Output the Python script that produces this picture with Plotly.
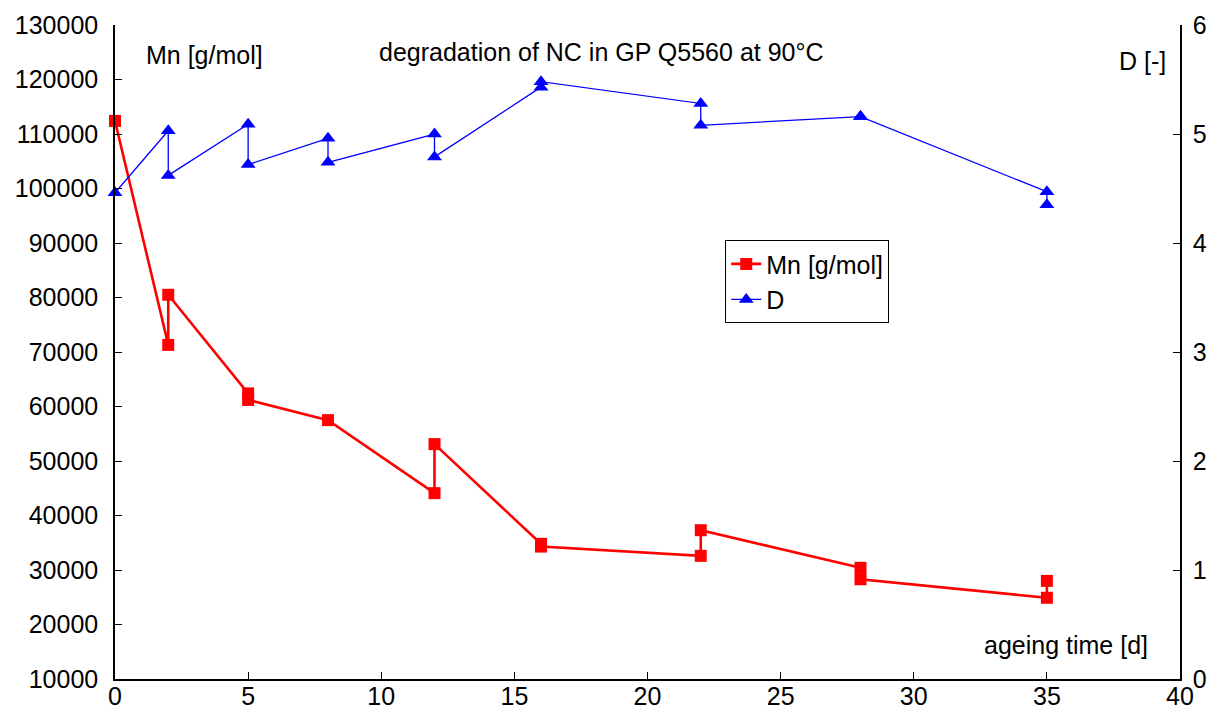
import plotly.graph_objects as go

# ageing time [d] and values (duplicate measurements kept in plotted order)
mn_time = [0, 2, 2, 5, 5, 8, 12, 12, 16, 16, 22, 22, 28, 28, 35, 35]
mn_vals = [112400, 71300, 80500, 62400, 61200, 57500, 44100, 53100,
           34800, 34300, 32600, 37300, 30400, 28300, 24900, 28000]

d_time = [0, 2, 2, 5, 5, 8, 8, 12, 12, 16, 16, 22, 22, 28, 28, 35, 35]
d_vals = [4.46, 5.03, 4.62, 5.09, 4.72, 4.96, 4.74, 5.00, 4.79,
          5.43, 5.48, 5.28, 5.08, 5.16, 5.16, 4.47, 4.35]

x_ticks = [0, 5, 10, 15, 20, 25, 30, 35, 40]
y_ticks = list(range(10000, 130001, 10000))
y_ticktext = [str(v) for v in y_ticks]
y2_ticks = [0, 1, 2, 3, 4, 5, 6]

FONT = "Liberation Sans, Arial, sans-serif"
FS = 25

fig = go.Figure()
fig.add_trace(go.Scatter(
    x=mn_time, y=mn_vals, name="Mn [g/mol]", mode="lines+markers",
    line=dict(color="#FF0000", width=2.6),
    marker=dict(symbol="square", size=12, color="#FF0000"),
    cliponaxis=False, yaxis="y"))
fig.add_trace(go.Scatter(
    x=d_time, y=d_vals, name="D", mode="lines+markers",
    line=dict(color="#0000FF", width=1.3),
    marker=dict(symbol="triangle-up", size=13, color="#0000FF"),
    cliponaxis=False, yaxis="y2"))

axis_common = dict(showgrid=False, zeroline=False, showline=True,
                   linecolor="black", linewidth=1.5, ticks="inside",
                   ticklen=7, tickcolor="black", tickwidth=1,
                   tickfont=dict(family=FONT, size=FS, color="black"))

fig.update_layout(
    width=1219, height=726,
    margin=dict(l=115, r=39, t=25, b=47),
    paper_bgcolor="white", plot_bgcolor="white",
    font=dict(family=FONT, size=FS, color="black"),
    xaxis=dict(range=[0, 40], tickvals=x_ticks, ticklabelstandoff=-6, **axis_common),
    yaxis=dict(range=[10000, 130000], tickvals=y_ticks, ticktext=y_ticktext,
               ticklabelstandoff=10, **axis_common),
    yaxis2=dict(range=[0, 6], tickvals=y2_ticks, overlaying="y",
                side="right", ticklabelstandoff=6, **axis_common),
    legend=dict(x=0.573, y=0.671, xanchor="left", yanchor="top",
                bordercolor="black", borderwidth=1, bgcolor="white",
                font=dict(family=FONT, size=FS), tracegroupgap=0,
                itemwidth=30),
    showlegend=True,
)

annots = [
    dict(text="Mn [g/mol]", x=0.027, y=0.954, xanchor="left"),
    dict(text="degradation of NC in GP Q5560 at 90°C", x=0.457, y=0.958, xanchor="center"),
    dict(text="D [-]", x=0.989, y=0.945, xanchor="right"),
    dict(text="ageing time [d]", x=0.972, y=0.052, xanchor="right"),
]
for a in annots:
    fig.add_annotation(xref="paper", yref="paper", showarrow=False,
                       yanchor="middle", font=dict(family=FONT, size=FS, color="black"),
                       **a)

fig.write_html("out.html")
